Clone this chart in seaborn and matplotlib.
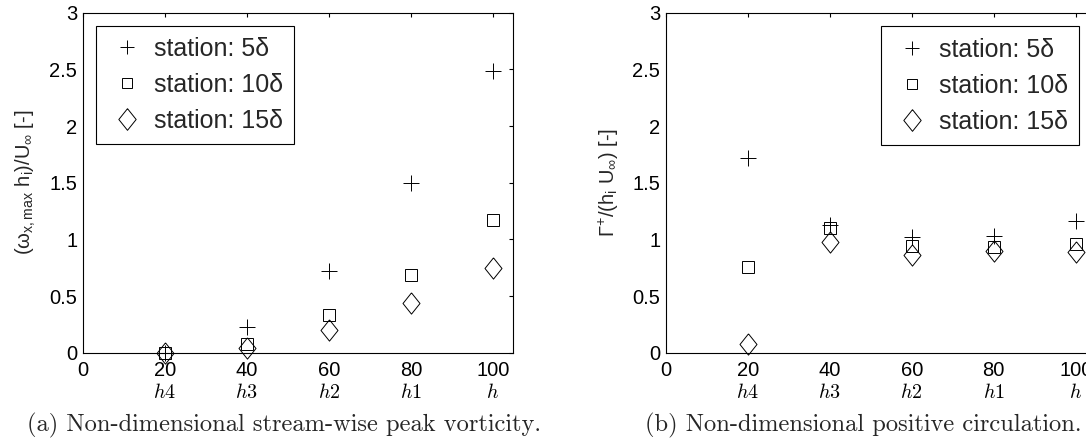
import matplotlib
matplotlib.use('Agg')
import numpy as np
import matplotlib.pyplot as plt
import matplotlib.ticker as mticker
import seaborn as sns

# stream-wise position of the stations, with the element heights below
x_pos = [20, 40, 60, 80, 100]
h_labels = ['h4', 'h3', 'h2', 'h1', 'h']
stations = ['station: 5δ', 'station: 10δ', 'station: 15δ']

# (a) non-dimensional peak vorticity
vort_5 = [0.0, 0.23, 0.72, 1.50, 2.49]
vort_10 = [0.0, 0.08, 0.33, 0.69, 1.17]
vort_15 = [0.0, 0.04, 0.20, 0.44, 0.75]

# (b) non-dimensional positive circulation
circ_5 = [1.72, 1.13, 1.02, 1.03, 1.16]
circ_10 = [0.76, 1.10, 0.94, 0.93, 0.96]
circ_15 = [0.08, 0.98, 0.86, 0.90, 0.89]

sns.set_theme(style='white', rc={'axes.edgecolor': 'black', 'axes.linewidth': 0.8})
plt.rcParams['font.family'] = ['Liberation Sans', 'DejaVu Sans']
plt.rcParams['mathtext.fontset'] = 'custom'
plt.rcParams['mathtext.rm'] = 'Liberation Sans'
plt.rcParams['mathtext.it'] = 'Liberation Sans:italic'

'''open diamond a little taller than wide, like the MATLAB one'''
diamond = [(0, 1), (0.8, 0), (0, -1), (-0.8, 0), (0, 1)]
markers = [('+', 11.5, 9.4), ('s', 9.1, 6.5), (diamond, 15.3, 15.6)]

fig = plt.figure(figsize=(10.86, 4.45), dpi=100)
ax1 = fig.add_axes([0.0762, 0.2074, 0.3965, 0.764])
ax2 = fig.add_axes([0.613, 0.2074, 0.3965, 0.764])


def draw(ax, series, ylabel, leg_anchor, leg_loc):
    for ys, (m, ms, _), name in zip(series, markers, stations):
        sns.lineplot(x=x_pos, y=ys, ax=ax, marker=m, markersize=ms, linestyle='none',
                     color='black', markerfacecolor='none', markeredgecolor='black',
                     markeredgewidth=0.7, label=name, clip_on=False, errorbar=None)
    ax.set_xlim(0, 105)
    ax.set_ylim(0, 3)
    ax.set_xticks([0] + x_pos)
    ax.set_xticklabels(['0'] + [f'{v}\n${h}$' for v, h in zip(x_pos, h_labels)])
    for t in ax.get_xticklabels():
        t.set_math_fontfamily('cm')
    ax.set_yticks(np.arange(0, 3.01, 0.5))
    ax.yaxis.set_major_formatter(mticker.FormatStrFormatter('%g'))
    ax.tick_params(direction='in', top=True, right=True, length=3, width=0.8,
                   labelsize=14.5, colors='black')
    ax.tick_params(axis='x', pad=6)
    ax.tick_params(axis='y', pad=4)
    ax.set_xlabel('')
    ax.set_ylabel(ylabel, fontsize=14.5, labelpad=8)
    leg = ax.legend(loc=leg_loc, bbox_to_anchor=leg_anchor, borderaxespad=0,
                    fontsize=18, frameon=True, fancybox=False, framealpha=1,
                    edgecolor='black', borderpad=0.45, handlelength=1.6,
                    handletextpad=0.25, labelspacing=0.48)
    leg.get_frame().set_linewidth(0.8)
    for hnd, (_, _, lms) in zip(leg.legend_handles, markers):
        hnd.set_markersize(lms)


draw(ax1, [vort_5, vort_10, vort_15],
     '(ω$_{\\mathrm{x,max}}$ h$_\\mathrm{i}$)/U$_\\infty$ [-]', (0.031, 0.962), 'upper left')
draw(ax2, [circ_5, circ_10, circ_15],
     'Γ$^{+}$/(h$_\\mathrm{i}$ U$_\\infty$) [-]', (0.96, 0.96), 'upper right')

fig.text(284 / 1086, 14 / 445, '(a) Non-dimensional stream-wise peak vorticity.',
         ha='center', va='baseline', family='cmr10', fontsize=17.6)
fig.text(863 / 1086, 14 / 445, '(b) Non-dimensional positive circulation.',
         ha='center', va='baseline', family='cmr10', fontsize=17.6)

fig.savefig('out.png', dpi=100)
